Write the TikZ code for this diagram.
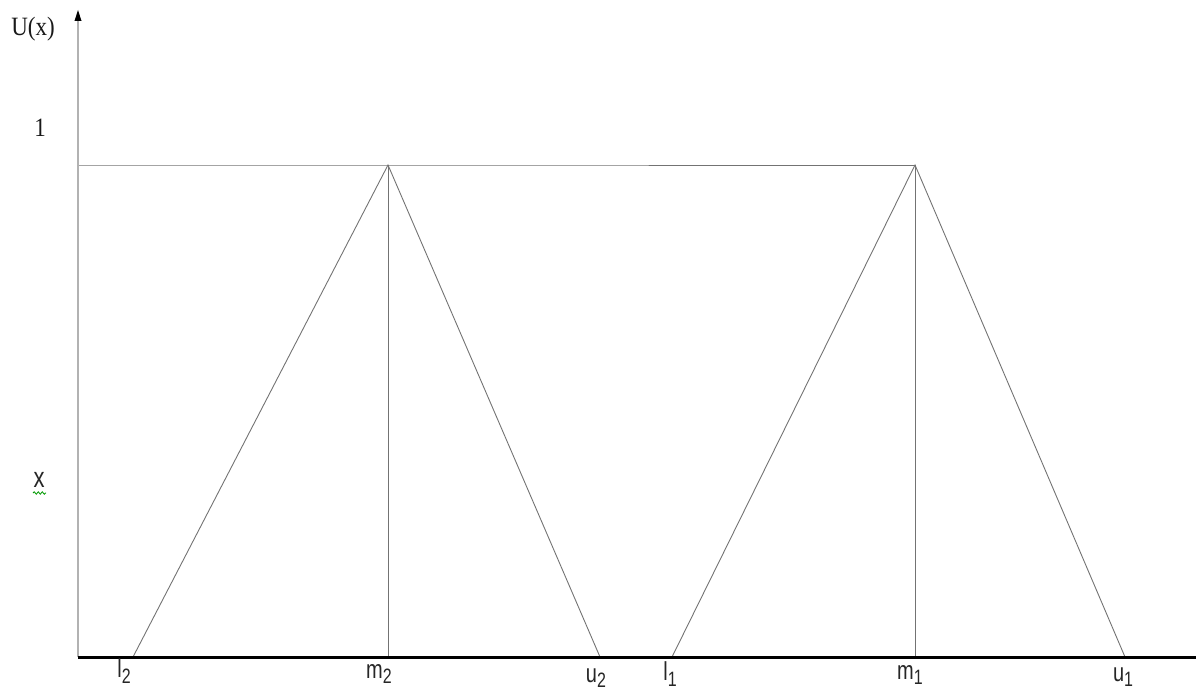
\documentclass[tikz,border=0pt]{standalone}
\usepackage{fontspec}
\usepackage{graphicx}
\setmainfont{Liberation Serif}
\setsansfont{Liberation Sans}
\usetikzlibrary{arrows.meta,decorations.pathmorphing}
\newcommand\mysub[1]{\raisebox{-0.22em}{\fontsize{16}{16}\selectfont #1}}
\newcommand\myvs[1]{\scalebox{1}[1.3]{#1}}
\begin{document}
\begin{tikzpicture}[x=1pt,y=-1pt,
  tri/.style={draw=black!55,line width=0.9pt},
  lab/.style={font=\sffamily\fontsize{20}{24}\selectfont, text=black!85, inner sep=0pt},
  slab/.style={font=\rmfamily\fontsize{23}{26}\selectfont, text=black!90, inner sep=0pt},
]
\useasboundingbox (0,0) rectangle (1196,690);
\coordinate (O) at (78,657);
\coordinate (top) at (78,10);
\coordinate (xend) at (1196,657);
\coordinate (h0) at (78,165);
\coordinate (L2) at (133,657);
\coordinate (M2) at (388,165);
\coordinate (M2b) at (388,657);
\coordinate (U2) at (600,657);
\coordinate (L1) at (672,657);
\coordinate (M1) at (915,165);
\coordinate (M1b) at (915,657);
\coordinate (U1) at (1125,657);
% membership lines
\draw[tri] (h0) -- (M2) -- (M1);
\draw[tri] (L2) -- (M2) -- (U2);
\draw[tri] (M2) -- (M2b);
\draw[tri] (L1) -- (M1) -- (U1);
\draw[tri] (M1) -- (M1b);
% axes
\draw[draw=black!30,line width=2pt,-{Latex[length=11pt,width=7pt]}] (O) -- (top);
\fill[black] (top) -- ++(-3.5,11) -- ++(7,0) -- cycle;
\draw[black,line width=3pt] (O) -- (xend);
% labels
\node[slab] (uxlab) at (33,29) {\scalebox{1}[1.15]{U(x)}};
\node[slab] (onelab) at (40,128) {\scalebox{1}[1.15]{1}};
\node[lab,font=\sffamily\fontsize{22}{24}\selectfont] (xlab) at (39,480) {\myvs{x}};
\draw[green!60!black,line width=0.8pt,decorate,decoration={snake,amplitude=1.2pt,segment length=4pt}] (33,493) -- (46,493);
\node[lab] (l2lab) at (124,671) {\myvs{l\mysub{2}}};
\node[lab] (m2lab) at (379,674) {\myvs{m\mysub{2}}};
\node[lab] (u2lab) at (596,678) {\myvs{u\mysub{2}}};
\node[lab] (l1lab) at (670,674) {\myvs{l\mysub{1}}};
\node[lab] (m1lab) at (910,675) {\myvs{m\mysub{1}}};
\node[lab] (u1lab) at (1123,677) {\myvs{u\mysub{1}}};
\end{tikzpicture}
\end{document}
